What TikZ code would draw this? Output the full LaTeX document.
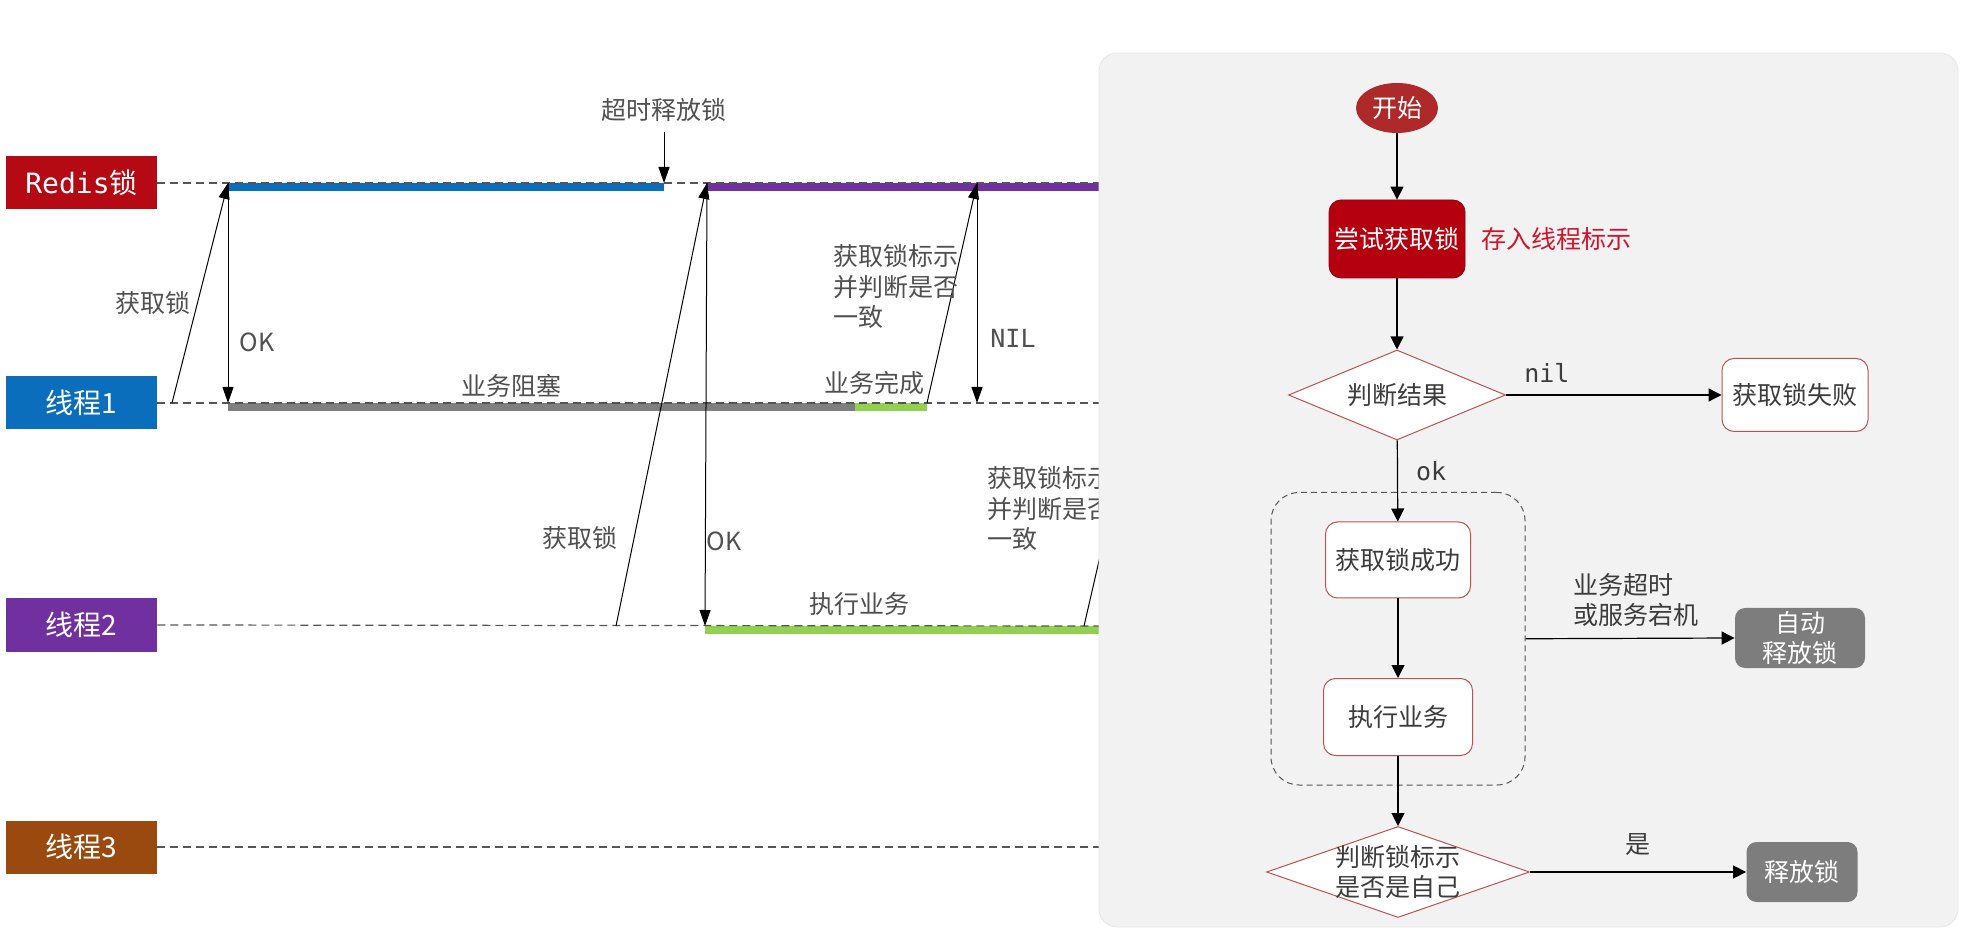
\documentclass[tikz,border=0pt]{standalone}
\usepackage{fontspec}
\setmainfont{Noto Sans CJK SC}
\newfontfamily\monofont{DejaVu Sans Mono}
\usepackage{xcolor}
\usetikzlibrary{arrows.meta, positioning, calc, shapes.geometric, fit}

\definecolor{redisred}{HTML}{B50A14}
\definecolor{threadblue}{HTML}{0A6EBD}
\definecolor{threadpurple}{HTML}{7030A0}
\definecolor{threadbrown}{HTML}{9A4A0E}
\definecolor{bargray}{HTML}{7F7F7F}
\definecolor{bargreen}{HTML}{92D050}
\definecolor{lifegray}{HTML}{555555}
\definecolor{labelgray}{HTML}{505050}
\definecolor{panelgray}{HTML}{F2F2F2}
\definecolor{startred}{HTML}{AE2A2A}
\definecolor{lockred}{HTML}{B5000F}
\definecolor{notered}{HTML}{D0142C}
\definecolor{borderred}{HTML}{B85450}
\definecolor{boxgray}{HTML}{7D7D7D}
\definecolor{textgray}{HTML}{3C3C3C}

\newcommand{\lblfont}{\fontsize{12.5pt}{15.25pt}\selectfont}

\begin{document}
\begin{tikzpicture}[x=0.5pt, y=-0.5pt,
    lane/.style={rectangle, minimum width=75.5pt, minimum height=26.5pt, inner sep=0, text=white, font=\fontsize{14pt}{16pt}\selectfont},
    lifeline/.style={draw=lifegray, line width=0.6pt, dash pattern=on 4pt off 2.5pt},
    bar/.style={line width=4pt},
    msg/.style={-{Triangle[length=8pt, width=5.5pt]}, line width=0.5pt},
    lbl/.style={text=labelgray, font=\lblfont, inner sep=0},
    flow/.style={-{Triangle[length=6.5pt, width=6.5pt]}, line width=0.6pt},
    proc/.style={rectangle, rounded corners=6pt, draw=borderred, fill=white, text=textgray, font=\lblfont, line width=0.5pt, inner sep=0},
    decide/.style={diamond, draw=borderred, fill=white, text=textgray, font=\lblfont, line width=0.5pt, align=center},
    graybox/.style={rectangle, rounded corners=5pt, fill=boxgray, text=white, font=\lblfont, align=center, inner sep=0}]
\useasboundingbox (0,0) rectangle (1963,929);

% lanes
\node[lane, fill=redisred] (redis) at (81.5,183) {{\monofont Redis}锁};
\node[lane, fill=threadblue] (th1) at (81.5,403) {线程1};
\node[lane, fill=threadpurple] (th2) at (81.5,625) {线程2};
\node[lane, fill=threadbrown] (th3) at (81.5,847) {线程3};

\coordinate (redisend) at (1100,183);
\coordinate (th1end) at (1100,403);
\coordinate (th2end) at (1100,626);
\coordinate (th3end) at (1100,847);

% busy bars
\draw[bar, threadblue] (228,187) -- (664,187);
\draw[bar, threadpurple] (707,187) -- (1100,187);
\draw[bar, bargray] (228,407) -- (855,407);
\draw[bar, bargreen] (855,407) -- (927,407);
\draw[bar, bargreen] (705,630) -- (1100,630);

\draw[lifeline] (redis.east) -- (redisend);
\draw[lifeline] (th1.east) -- (th1end);
\draw[lifeline] (th2.east) -- (th2end);
\draw[lifeline] (th3.east) -- (th3end);

% thread 1
\coordinate (s1) at (172,403);
\coordinate (r1) at (228,183);
\coordinate (p1) at (228,403);
\draw[msg] (s1) -- (r1);
\draw[msg] (r1) -- (p1);
\node[lbl] (get1) at (153,303) {获取锁};
\node[lbl] (ok1) at (257,342) {OK};

\node[lbl] (timeout) at (664,110) {超时释放锁};
\coordinate (rt) at (664,183);
\draw[msg] ([yshift=-5pt]timeout.south) -- (rt);

\node[lbl] (block) at (511,386) {业务阻塞};
\node[lbl] (done) at (874,383) {业务完成};

\coordinate (s3) at (927,403);
\coordinate (r3) at (977,183);
\coordinate (p3) at (977,403);
\draw[msg] (s3) -- (r3);
\draw[msg] (r3) -- (p3);
\node[lbl, align=left, anchor=north west] (check1) at (833,244) {获取锁标示\\并判断是否\\一致};
\node[lbl] (nil1) at (1013,338) {\monofont NIL};

% thread 2
\coordinate (s2) at (616,626);
\coordinate (r2) at (707,183);
\coordinate (p2) at (705,626);
\draw[msg] (s2) -- (r2);
\draw[msg] (r2) -- (p2);
\node[lbl] (get2) at (580,538) {获取锁};
\node[lbl] (ok2) at (724,541) {OK};
\node[lbl] (exec2) at (859,604) {执行业务};

\coordinate (s4) at (1084,626);
\coordinate (r4) at (1186,183);
\draw[msg] (s4) -- (r4);
\node[lbl, align=left, anchor=north west] (check2) at (987,466) {获取锁标示\\并判断是否\\一致};

% flow chart panel
\fill[panelgray, draw=black!10, rounded corners=9pt] (1099,53) rectangle (1958,927);

\node[ellipse, fill=startred, text=white, font=\lblfont, minimum width=41pt, minimum height=25pt, inner sep=0] (start) at (1397,108) {开始};
\node[rectangle, rounded corners=6pt, fill=lockred, draw=lockred!80!black, text=white, font=\lblfont, minimum width=68pt, minimum height=39pt, inner sep=0] (try) at (1397,239) {尝试获取锁};
\node[text=notered, font=\lblfont, inner sep=0, anchor=west] (store) at (1481,239) {存入线程标示};

\node[decide, minimum width=108.5pt, minimum height=45pt, aspect=2.4, inner sep=0] (judge) at (1397,395) {判断结果};
\node[proc, minimum width=73pt, minimum height=36.5pt] (fail) at (1795,395) {获取锁失败};

\node[proc, minimum width=72.5pt, minimum height=38pt] (succ) at (1398,560) {获取锁成功};
\node[proc, minimum width=74.5pt, minimum height=38.5pt] (exec) at (1398,717) {执行业务};
\node[draw=lifegray, dash pattern=on 3pt off 2pt, rounded corners=14pt, line width=0.5pt, inner xsep=26pt, inner ysep=14.5pt, fit=(succ)(exec)] (grp) {};

\node[graybox, minimum width=65pt, minimum height=30pt] (auto) at (1800,638) {自动\\释放锁};
\node[lbl, text=textgray, align=left, anchor=west] (crash) at (1573,600) {业务超时\\或服务宕机};

\node[decide, minimum width=131.5pt, minimum height=45.5pt, aspect=2.9, inner xsep=-3pt, inner ysep=-4pt] (own) at (1398,872) {判断锁标示\\是否是自己};
\node[graybox, minimum width=55.5pt, minimum height=30pt] (release) at (1802,872) {释放锁};

\draw[flow] (start) -- (try);
\draw[flow] (try) -- (judge);
\draw[flow] (judge) -- node[pos=0.19, above=6pt, text=textgray, font=\lblfont\monofont, inner sep=0] {nil} (fail);
\draw[flow] (judge) -- node[pos=0.38, right=9pt, text=textgray, font=\lblfont\monofont, inner sep=0] {ok} (succ);
\draw[flow] (succ) -- (exec);
\draw[flow] (grp.east) -- (auto.west);
\draw[flow] (exec) -- (own);
\draw[flow] (own) -- node[above=8pt, text=textgray, font=\lblfont, inner sep=0] {是} (release);
\end{tikzpicture}
\end{document}
